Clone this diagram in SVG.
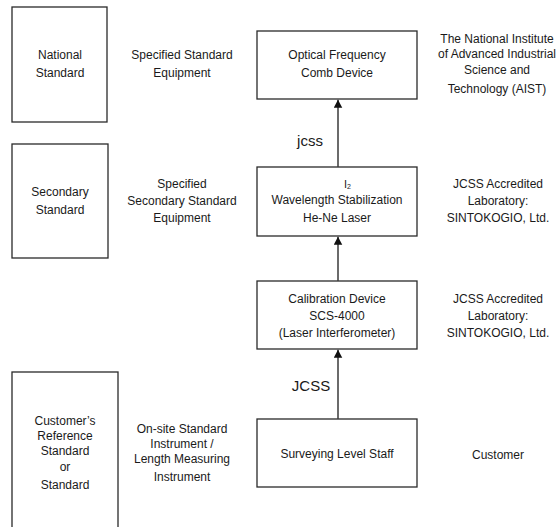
<svg xmlns="http://www.w3.org/2000/svg" width="560" height="527" viewBox="0 0 560 527">
<style>
  .box { fill: #ffffff; stroke: #2a2a2a; stroke-width: 1.3; }
  .t { font-family: "Liberation Sans", Arial, sans-serif; font-size: 12px; fill: #1a1a1a; text-anchor: middle; }
  .lbl { font-family: "Liberation Sans", Arial, sans-serif; font-size: 15px; fill: #1a1a1a; text-anchor: middle; }
  .conn { stroke: #3a3a3a; stroke-width: 1.5; fill: none; }
</style>
<defs>
  <marker id="ah" markerUnits="userSpaceOnUse" markerWidth="9" markerHeight="15" refX="8" refY="4.25" orient="auto">
    <path d="M0,0 L8,4.25 L0,8.5 Z" fill="#111111"/>
  </marker>
</defs>
<rect width="560" height="527" fill="#ffffff"/>

<g id="national-standard">
  <rect class="box" x="12" y="7" width="95" height="115"/>
  <text class="t" x="60" y="58.5">National</text>
  <text class="t" x="60" y="77">Standard</text>
</g>
<g id="specified-standard-equipment">
  <text class="t" x="182" y="58.5">Specified Standard</text>
  <text class="t" x="182" y="77">Equipment</text>
</g>
<g id="optical-frequency-comb">
  <rect class="box" x="257" y="31" width="160" height="68"/>
  <text class="t" x="337" y="59">Optical Frequency</text>
  <text class="t" x="337" y="76.5">Comb Device</text>
</g>
<g id="aist">
  <text class="t" x="497" y="42.5">The National Institute</text>
  <text class="t" x="497" y="57.5">of Advanced Industrial</text>
  <text class="t" x="497" y="73.5">Science and</text>
  <text class="t" x="497" y="92.5">Technology (AIST)</text>
</g>

<g id="secondary-standard">
  <rect class="box" x="12" y="144" width="96" height="114"/>
  <text class="t" x="60" y="196">Secondary</text>
  <text class="t" x="60" y="214">Standard</text>
</g>
<g id="specified-secondary-standard-equipment">
  <text class="t" x="182" y="187.5">Specified</text>
  <text class="t" x="182" y="204.5">Secondary Standard</text>
  <text class="t" x="182" y="222">Equipment</text>
</g>
<g id="i2-laser">
  <rect class="box" x="257" y="167" width="160" height="69"/>
  <text class="t" x="344" y="187.5" style="font-size:11px;text-anchor:start">I<tspan style="font-size:7px" dy="1">2</tspan></text>
  <text class="t" x="337" y="203.5">Wavelength Stabilization</text>
  <text class="t" x="337" y="222">He-Ne Laser</text>
</g>
<g id="jcss-lab-1">
  <text class="t" x="498" y="187.5">JCSS Accredited</text>
  <text class="t" x="498" y="204.5">Laboratory:</text>
  <text class="t" x="498" y="222">SINTOKOGIO, Ltd.</text>
</g>

<g id="calibration-device">
  <rect class="box" x="257" y="281" width="160" height="68"/>
  <text class="t" x="337" y="302.5">Calibration Device</text>
  <text class="t" x="337" y="319.5">SCS-4000</text>
  <text class="t" x="337" y="336.5">(Laser Interferometer)</text>
</g>
<g id="jcss-lab-2">
  <text class="t" x="498" y="302.5">JCSS Accredited</text>
  <text class="t" x="498" y="319.5">Laboratory:</text>
  <text class="t" x="498" y="336.5">SINTOKOGIO, Ltd.</text>
</g>

<g id="customer-reference-standard">
  <rect class="box" x="12" y="372" width="106" height="170"/>
  <text class="t" x="65" y="425">Customer’s</text>
  <text class="t" x="65" y="439.5">Reference</text>
  <text class="t" x="65" y="455">Standard</text>
  <text class="t" x="65" y="470.5">or</text>
  <text class="t" x="65" y="489">Standard</text>
</g>
<g id="on-site-instrument">
  <text class="t" x="182" y="432.5">On-site Standard</text>
  <text class="t" x="182" y="447.5">Instrument /</text>
  <text class="t" x="182" y="463">Length Measuring</text>
  <text class="t" x="182" y="481">Instrument</text>
</g>
<g id="surveying-level-staff">
  <rect class="box" x="257" y="419" width="160" height="68"/>
  <text class="t" x="337" y="458">Surveying Level Staff</text>
</g>
<g id="customer">
  <text class="t" x="498" y="458.5">Customer</text>
</g>

<g id="connectors">
  <line class="conn" x1="338" y1="167" x2="338" y2="99.8" marker-end="url(#ah)"/>
  <text class="lbl" x="310" y="146">jcss</text>
  <line class="conn" x1="338" y1="281" x2="338" y2="236.8" marker-end="url(#ah)"/>
  <line class="conn" x1="338" y1="419" x2="338" y2="349.8" marker-end="url(#ah)"/>
  <text class="lbl" x="311" y="390.5">JCSS</text>
</g>
</svg>
